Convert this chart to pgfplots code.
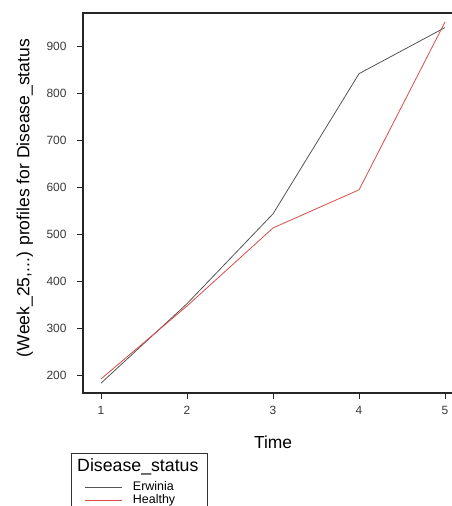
\documentclass[border=0pt]{standalone}
\usepackage{pgfplots}
\pgfplotsset{compat=1.18}
\usepackage{fontspec}
\setmainfont{Liberation Sans}
\definecolor{erw}{HTML}{555555}
\definecolor{hea}{HTML}{D94A4A}
\definecolor{ticktxt}{HTML}{3A3A3A}
\begin{document}
\begin{tikzpicture}[x=1bp,y=1bp]
\path[use as bounding box] (0,0) rectangle (452,506);
\begin{axis}[
  at={(83bp,113bp)}, anchor=south west,
  scale only axis, width=372bp, height=380bp,
  xmin=0.79, xmax=5.116, ymin=163, ymax=971,
  axis line style={line width=1.1pt, black!85},
  xtick={1,2,3,4,5}, ytick={200,300,400,500,600,700,800,900},
  tick align=outside, tick pos=left,
  major tick length=6bp,
  every tick/.style={line width=1pt, black!85},
  /pgf/number format/assume math mode=true,
  ticklabel style={font=\fontsize{12}{14}\selectfont, text=ticktxt},
  yticklabel style={xshift=-7bp},
  xticklabel style={yshift=-4bp},
  xlabel={Time},
  xlabel style={font=\fontsize{17.5}{20}\selectfont, at={(axis description cs:0.511,-0.129)}, anchor=center},
  ylabel={(Week\_25,...) profiles for Disease\_status},
  ylabel style={font=\fontsize{17.6}{20}\selectfont, at={(axis description cs:-0.156,0.513)}, anchor=center},
  legend style={draw=none, fill=none, at={(axis description cs:0.0,-0.225)}, anchor=north west,
    font=\fontsize{12.5}{13}\selectfont, row sep=-1.5bp, inner sep=1bp},
  legend cell align=left,
  legend image code/.code={\draw[#1] (0bp,0bp) -- (37bp,0bp); \path (46bp,0bp);},
]
\addlegendimage{erw, line width=0.8pt}
\addlegendentry{Erwinia}
\addlegendimage{hea, line width=0.8pt}
\addlegendentry{Healthy}
\addplot[erw, line width=0.8pt, forget plot] coordinates {(1,184) (2,353) (3,544) (4,842) (5,940)};
\addplot[hea, line width=0.8pt, forget plot] coordinates {(1,193) (2,348) (3,514) (4,595) (5,952)};
\end{axis}
\node[anchor=west, font=\fontsize{17.8}{20}\selectfont, inner sep=0pt] at (77,39) {Disease\_status};
\draw[line width=0.8pt, black!80] (71,-5) rectangle (207,53);
\end{tikzpicture}
\end{document}
